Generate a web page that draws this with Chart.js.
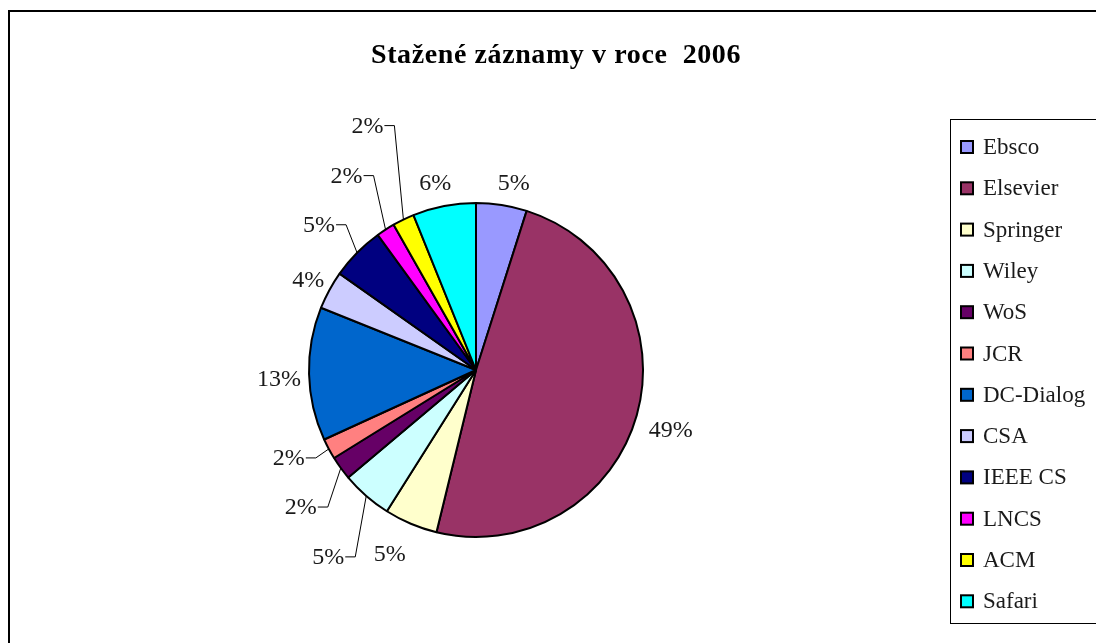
<!DOCTYPE html>
<html>
<head>
<meta charset="utf-8">
<script src="https://cdn.jsdelivr.net/npm/chart.js@4"></script>
<style>
  body { margin: 0; background: #fff; }
  #wrap { width: 1096px; height: 643px; }
</style>
</head>
<body>
<div id="wrap"><canvas id="piechart" width="1096" height="643"></canvas></div>
<script>
// data (share of downloads, %)
const categories = ['Ebsco', 'Elsevier', 'Springer', 'Wiley', 'WoS', 'JCR', 'DC-Dialog', 'CSA', 'IEEE CS', 'LNCS', 'ACM', 'Safari'];
const values = [4.9, 48.85, 5.15, 4.9, 2.3, 2.0, 12.9, 3.7, 5.2, 1.8, 2.1, 6.1];
const colors = ['#9999FF', '#993366', '#FFFFCC', '#CCFFFF', '#660066', '#FF8080', '#0066CC', '#CCCCFF', '#000080', '#FF00FF', '#FFFF00', '#00FFFF'];
const titleText = 'Stažené záznamy v roce  2006';

// where each % label sits relative to the slice's outer edge, and whether it gets a leader line
const labelNudge = [
    [12, -22, false], [34, 15, false], [-21, 30, false], [-38, 61, true],
    [-40, 39, true], [-40, 9, true], [-30, 5, false], [-21, -10, false],
    [-38, -28, true], [-39, -54, true], [-36, -94, true], [-9, -23, false]
];

const serif = '"Liberation Serif", "Times New Roman", serif';

const decor = {
    id: 'decor',
    beforeDraw(chart) {
        let ctx = chart.ctx;
        ctx.save();
        ctx.fillStyle = '#fff';
        ctx.fillRect(0, 0, chart.width, chart.height);
        // outer frame
        ctx.strokeStyle = '#000';
        ctx.lineWidth = 2;
        ctx.beginPath();
        ctx.moveTo(9, chart.height + 5);
        ctx.lineTo(9, 11);
        ctx.lineTo(chart.width + 5, 11);
        ctx.stroke();
        // title
        ctx.fillStyle = '#000';
        ctx.font = 'bold 28px ' + serif;
        ctx.letterSpacing = '0.6px';
        ctx.textAlign = 'center';
        ctx.textBaseline = 'alphabetic';
        ctx.fillText(titleText, 556, 63);
        ctx.restore();
    },
    afterDatasetsDraw(chart) {
        let ctx = chart.ctx;
        let meta = chart.getDatasetMeta(0);
        let data = chart.data.datasets[0].data;
        let total = data.reduce((a, b) => a + b, 0);
        ctx.save();
        ctx.font = '24px ' + serif;
        ctx.fillStyle = '#1a1a1a';
        ctx.strokeStyle = '#000';
        ctx.lineWidth = 1;
        ctx.textBaseline = 'middle';
        ctx.textAlign = 'center';
        meta.data.forEach(function (arc, i) {
            let p = arc.getProps(['x', 'y', 'startAngle', 'endAngle', 'outerRadius'], true);
            let mid = (p.startAngle + p.endAngle) / 2;
            let ax = p.x + Math.cos(mid) * p.outerRadius;
            let ay = p.y + Math.sin(mid) * p.outerRadius;
            let n = labelNudge[i];
            let lx = ax + n[0];
            let ly = ay + n[1];
            let txt = Math.round(data[i] / total * 100) + '%';
            ctx.fillText(txt, lx, ly + 1);
            if (n[2]) {
                let half = ctx.measureText(txt).width / 2;
                let ex = lx + half + 11;
                ctx.beginPath();
                ctx.moveTo(ax, ay);
                ctx.lineTo(ex, ly);
                ctx.lineTo(lx + half + 1, ly);
                ctx.stroke();
            }
        });

        // legend box
        let bx = 950, by = 119, bh = 504, rowH = 41.3;
        ctx.lineWidth = 1;
        ctx.strokeStyle = '#000';
        ctx.strokeRect(bx + 0.5, by + 0.5, 200, bh);
        ctx.font = '23px ' + serif;
        ctx.textAlign = 'left';
        chart.data.labels.forEach(function (lab, i) {
            let cy = 147 + i * rowH;
            ctx.fillStyle = chart.data.datasets[0].backgroundColor[i];
            ctx.fillRect(961, cy - 6, 12, 12);
            ctx.lineWidth = 2;
            ctx.strokeRect(961, cy - 6, 12, 12);
            ctx.fillStyle = '#1a1a1a';
            ctx.fillText(lab, 983, cy + 1);
        });
        ctx.restore();
    }
};

let ctx = document.getElementById('piechart').getContext('2d');
new Chart(ctx, {
    type: 'pie',
    data: {
        labels: categories,
        datasets: [{
            data: values,
            backgroundColor: colors,
            borderColor: '#000',
            borderWidth: 2
        }]
    },
    options: {
        responsive: false,
        animation: false,
        layout: {
            padding: { left: 308, right: 452, top: 202, bottom: 105 }
        },
        plugins: {
            legend: { display: false },
            tooltip: { enabled: false },
            title: { display: false }
        }
    },
    plugins: [decor]
});
</script>
</body>
</html>
